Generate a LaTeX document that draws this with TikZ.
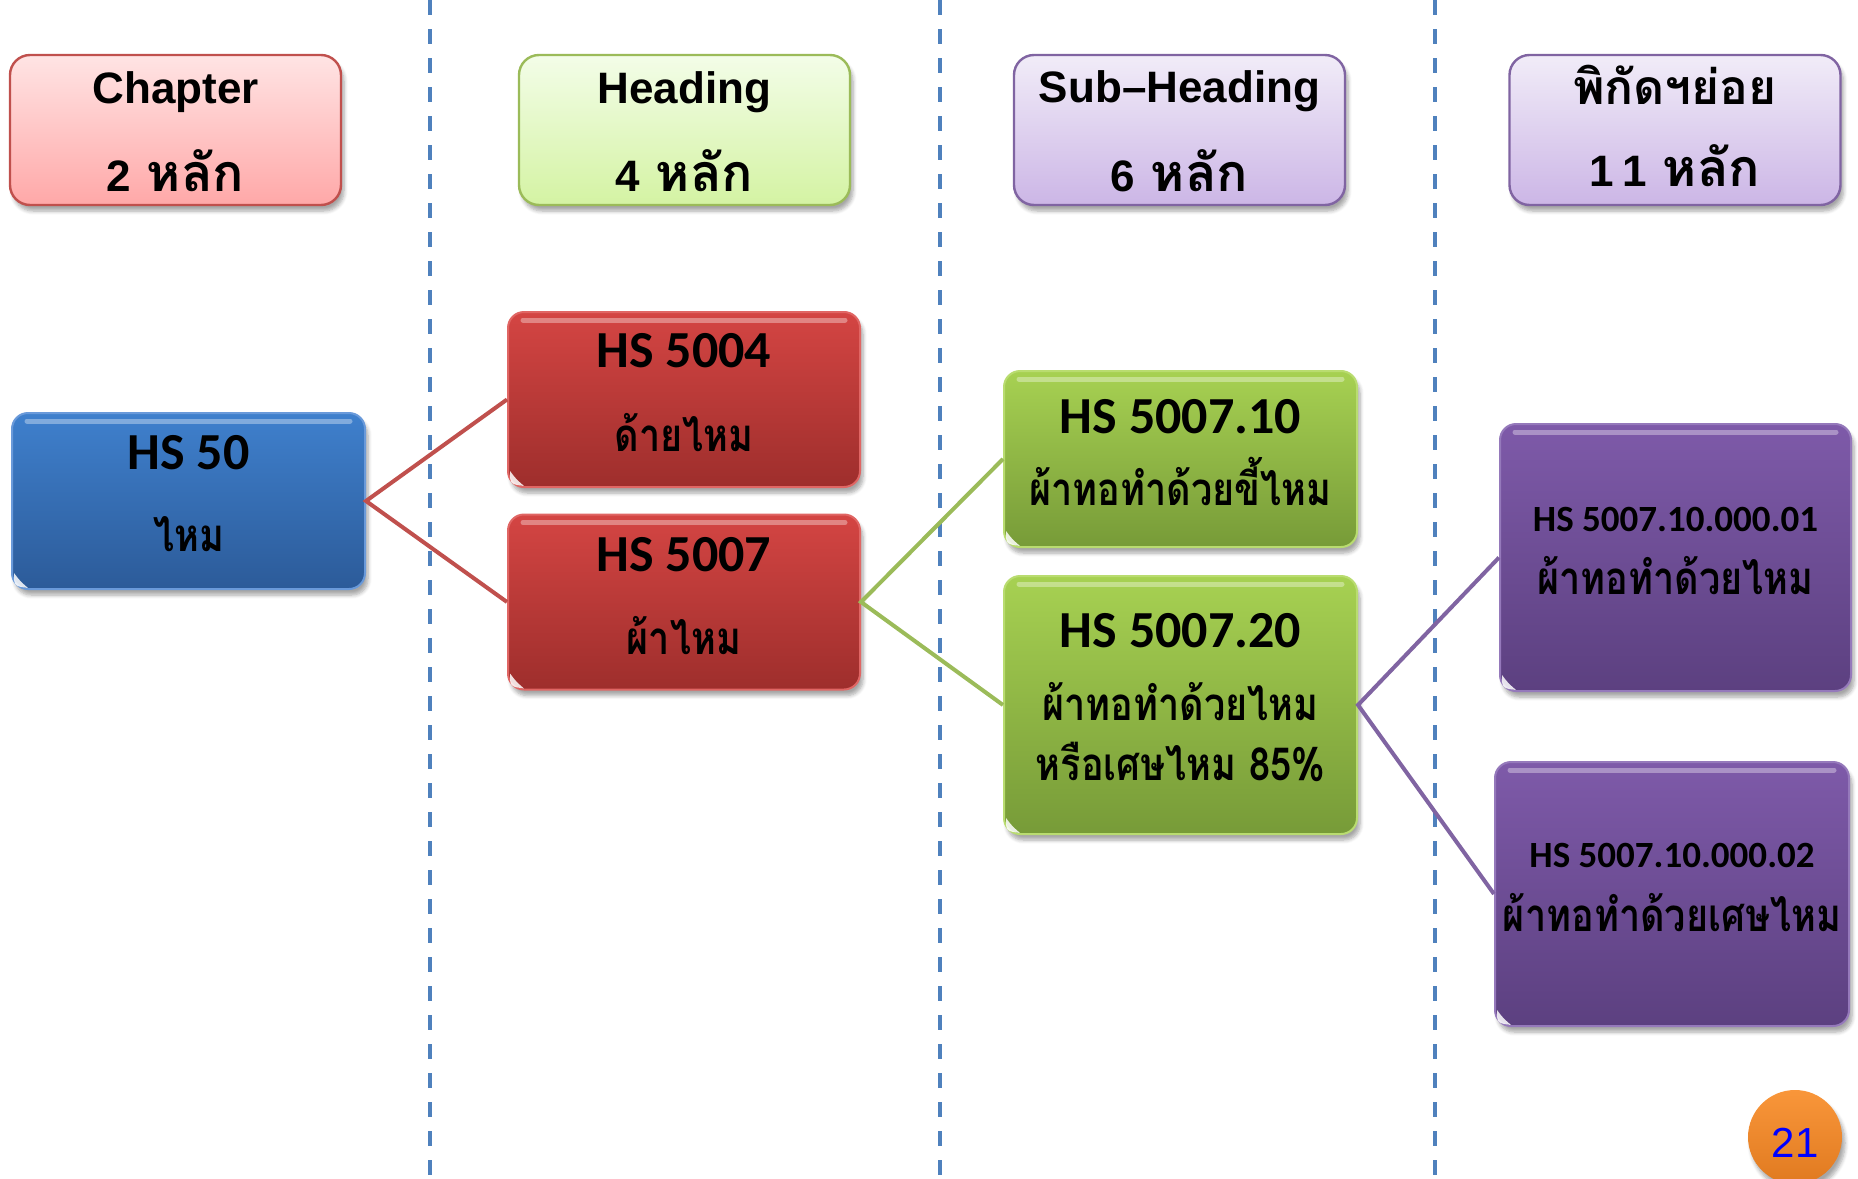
\documentclass[tikz,border=0pt]{standalone}
\usepackage{fontspec}
\setmainfont{Carlito}
\newfontfamily\thai[Script=Thai,FakeStretch=0.83]{Loma}
\newfontfamily\thaih[Script=Thai]{Loma}
\newfontfamily\hdr{Liberation Sans}
\usetikzlibrary{shadows.blur,calc}
\definecolor{chapTop}{HTML}{FFE4E4}
\definecolor{chapBot}{HTML}{FFA8A8}
\definecolor{chapLine}{HTML}{C0504D}
\definecolor{headTop}{HTML}{F3FDE8}
\definecolor{headBot}{HTML}{D4F3A3}
\definecolor{headLine}{HTML}{9BBB59}
\definecolor{subTop}{HTML}{F1ECF8}
\definecolor{subBot}{HTML}{CCB6E6}
\definecolor{subLine}{HTML}{8064A2}
\definecolor{blueTop}{HTML}{3F80CD}
\definecolor{blueBot}{HTML}{2C5B99}
\definecolor{blueEdge}{HTML}{6A9ADA}
\definecolor{redTop}{HTML}{D44543}
\definecolor{redBot}{HTML}{9E2E2C}
\definecolor{redEdge}{HTML}{E06664}
\definecolor{greenTop}{HTML}{A7D152}
\definecolor{greenBot}{HTML}{779B38}
\definecolor{greenEdge}{HTML}{B9DC70}
\definecolor{purpTop}{HTML}{7E5AA9}
\definecolor{purpBot}{HTML}{5C4080}
\definecolor{purpEdge}{HTML}{9579BB}
\definecolor{dashBlue}{HTML}{4F81BD}
\definecolor{orTop}{HTML}{F9963A}
\definecolor{orBot}{HTML}{E07A20}
\newcommand\glossbox[1]{%
  \draw[white,opacity=.35,line width=2.5pt,line cap=round]
    ($(#1.north west)+(16,9)$) -- ($(#1.north east)+(-16,9)$);
  \fill[white,opacity=.85] ($(#1.south west)+(3,-17)$)
    .. controls ($(#1.south west)+(3,-4)$) .. ($(#1.south west)+(17,-2)$)
    .. controls ($(#1.south west)+(9,-9)$) .. ($(#1.south west)+(3,-17)$) -- cycle;
}
\begin{document}
\begin{tikzpicture}[x=0.5pt,y=-0.5pt,
  shad/.style={blur shadow={shadow xshift=1.5pt,shadow yshift=-3pt,shadow blur steps=6,shadow opacity=35}},
  hdrbox/.style={shad,rounded corners=10pt,line width=1.2pt,minimum width=165.5pt,minimum height=75pt,inner sep=0pt},
  bodybox/.style={shad,rounded corners=8pt,line width=1pt,inner sep=0pt},
  hdrtext/.style={anchor=base,inner sep=0pt,font=\hdr\bfseries\fontsize{22}{26}\selectfont},
  hstext/.style={anchor=base,inner sep=0pt,font=\bfseries\fontsize{26}{30}\selectfont},
  hssmall/.style={anchor=base,inner sep=0pt,font=\bfseries\fontsize{18.5}{22}\selectfont},
  thtext/.style={anchor=base,inner sep=0pt,font=\thai\bfseries\fontsize{22.8}{27}\selectfont},
  dashline/.style={dashBlue,line width=1.6pt,dash pattern=on 7.5pt off 7pt},
  conn/.style={line width=2pt}
]
\useasboundingbox (0,0) rectangle (1858,1178);
\clip (0,0) rectangle (1858,1178);
% column separators
\draw[dashline] (430,0) -- (430,1178);
\draw[dashline] (940,0) -- (940,1178);
\draw[dashline] (1435,0) -- (1435,1178);

% header boxes
\node[hdrbox,draw=chapLine,top color=chapTop,bottom color=chapBot] (chap) at (175.5,130) {};
\node[hdrbox,draw=headLine,top color=headTop,bottom color=headBot] (head) at (684.5,130) {};
\node[hdrbox,draw=subLine,top color=subTop,bottom color=subBot] (subh) at (1179.5,130) {};
\node[hdrbox,draw=subLine,top color=subTop,bottom color=subBot] (subsub) at (1675,130) {};
\node[hdrtext] (chapA) at (175.5,103) {Chapter};
\node[hdrtext] (chapB) at (175.5,191) {2\hspace{8pt}{\thaih\fontsize{26}{30}\selectfont หลัก}};
\node[hdrtext] (headA) at (684.5,103) {Heading};
\node[hdrtext] (headB) at (684.5,191) {4\hspace{8pt}{\thaih\fontsize{26}{30}\selectfont หลัก}};
\node[hdrtext] (subhA) at (1179.5,102) {Sub–Heading};
\node[hdrtext] (subhB) at (1179.5,191) {6\hspace{8pt}{\thaih\fontsize{26}{30}\selectfont หลัก}};
\node[hdrtext] (subsubA) at (1675,104) {\thaih\fontsize{24}{28}\selectfont พิกัดฯย่อย};
\node[hdrtext] (subsubB) at (1675,186) {1\hspace{4pt}1\hspace{8pt}{\thaih\fontsize{26}{30}\selectfont หลัก}};

% body boxes
\node[bodybox,draw=blueEdge,top color=blueTop,bottom color=blueBot,minimum width=176.5pt,minimum height=88pt] (hs50) at (188.5,501) {};
\node[bodybox,draw=redEdge,top color=redTop,bottom color=redBot,minimum width=176pt,minimum height=87.5pt] (hs5004) at (684,399.5) {};
\node[bodybox,draw=redEdge,top color=redTop,bottom color=redBot,minimum width=176pt,minimum height=87.5pt] (hs5007) at (684,602) {};
\node[bodybox,draw=greenEdge,top color=greenTop,bottom color=greenBot,minimum width=176.5pt,minimum height=88pt] (hs500710) at (1180.5,459) {};
\node[bodybox,draw=greenEdge,top color=greenTop,bottom color=greenBot,minimum width=176.5pt,minimum height=129pt] (hs500720) at (1180.5,705) {};
\node[bodybox,draw=purpEdge,top color=purpTop,bottom color=purpBot,minimum width=175.5pt,minimum height=133.5pt] (p1) at (1675.5,557.5) {};
\node[bodybox,draw=purpEdge,top color=purpTop,bottom color=purpBot,minimum width=177pt,minimum height=132pt] (p2) at (1672,894) {};
\foreach \n in {hs50,hs5004,hs5007,hs500710,hs500720,p1,p2} {\glossbox{\n}}

% connectors
\draw[conn,chapLine] (hs5004.west) -- (hs50.east) -- (hs5007.west);
\draw[conn,headLine] (hs500710.west) -- (hs5007.east) -- (hs500720.west);
\draw[conn,subLine] (p1.west) -- (hs500720.east) -- (p2.west);

% body texts
\node[hstext] (hs50A) at (188.5,469) {HS 50};
\node[thtext] (hs50B) at (188.5,551) {ไหม};
\node[hstext] (hs5004A) at (684,367) {HS 5004};
\node[thtext] (hs5004B) at (684,451) {ด้ายไหม};
\node[hstext] (hs5007A) at (684,571) {HS 5007};
\node[thtext] (hs5007B) at (684,654) {ผ้าไหม};
\node[hstext] (hs500710A) at (1180.5,433) {HS 5007.10};
\node[thtext] (hs500710B) at (1180.5,505) {ผ้าทอทำด้วยขี้ไหม};
\node[hstext] (hs500720A) at (1180.5,647) {HS 5007.20};
\node[thtext] (hs500720B) at (1180.5,720) {ผ้าทอทำด้วยไหม};
\node[thtext] (hs500720C) at (1180.5,780) {หรือเศษไหม 85\%};
\node[hssmall] (p1A) at (1675.5,531) {HS 5007.10.000.01};
\node[thtext] (p1B) at (1675.5,594) {ผ้าทอทำด้วยไหม};
\node[hssmall] (p2A) at (1672,867) {HS 5007.10.000.02};
\node[thtext] (p2B) at (1672,931) {ผ้าทอทำด้วยเศษไหม};

% page number
\node[circle,shad,minimum size=47pt,inner sep=0pt,top color=orTop,bottom color=orBot] (pg) at (1795,1137) {};
\node[anchor=base,inner sep=0pt,text=blue,font=\hdr\fontsize{21}{24}\selectfont] (pgnum) at (1795,1157) {21};
\end{tikzpicture}
\end{document}
